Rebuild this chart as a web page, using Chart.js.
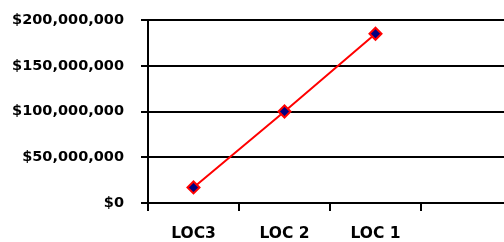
<!DOCTYPE html>
<html>
<head>
<meta charset="utf-8">
<script src="https://cdn.jsdelivr.net/npm/chart.js@4/dist/chart.umd.min.js"></script>
<style>
html,body{margin:0;padding:0;background:#fff;overflow:hidden;}
#wrap{position:relative;width:520px;height:242px;}
</style>
</head>
<body>
<div id="wrap"><canvas id="c"></canvas></div>
<script>
const categories = ['LOC3', 'LOC 2', 'LOC 1', ''];
const values = [17000000, 100000000, 185000000, null];
const yTicks = [0, 50000000, 100000000, 150000000, 200000000];

const yFont = {family: '"DejaVu Sans", sans-serif', size: 14.5, weight: 'bold'};
const xFont = {family: '"DejaVu Sans", sans-serif', size: 15.5, weight: 'bold'};

new Chart(document.getElementById('c'), {
  type: 'line',
  data: {
    labels: categories,
    datasets: [{
      data: values,
      borderColor: '#ff0000',
      borderWidth: 2,
      pointStyle: 'rectRot',
      pointRadius: 6,
      pointBackgroundColor: '#000080',
      pointBorderColor: '#ff0000',
      pointBorderWidth: 2,
      tension: 0,
      clip: false
    }]
  },
  options: {
    responsive: true,
    maintainAspectRatio: false,
    animation: false,
    layout: {padding: {top: 20, right: 4, bottom: 0, left: 0}},
    plugins: {legend: {display: false}, tooltip: {enabled: false}},
    scales: {
      x: {
        offset: true,
        grid: {offset: true, drawOnChartArea: false, drawTicks: true, tickLength: 8, color: '#000', lineWidth: 2},
        border: {display: true, color: '#000', width: 2},
        ticks: {font: xFont, color: '#000', padding: 14, maxRotation: 0, autoSkip: false},
        afterFit: s => { s.height = 39; s.paddingLeft = 0; s.paddingRight = 0; }
      },
      y: {
        min: 0,
        max: 200000000,
        afterBuildTicks: s => { s.ticks = yTicks.map(v => ({value: v})); },
        grid: {color: '#000', lineWidth: 2, tickLength: 7, drawTicks: true},
        border: {display: true, color: '#000', width: 2},
        ticks: {
          font: yFont, color: '#000', padding: 17,
          callback: v => '$' + Number(v).toLocaleString('en-US')
        },
        afterFit: s => { s.width = 148; s.paddingTop = 0; s.paddingBottom = 0; }
      }
    }
  }
});
</script>
</body>
</html>
